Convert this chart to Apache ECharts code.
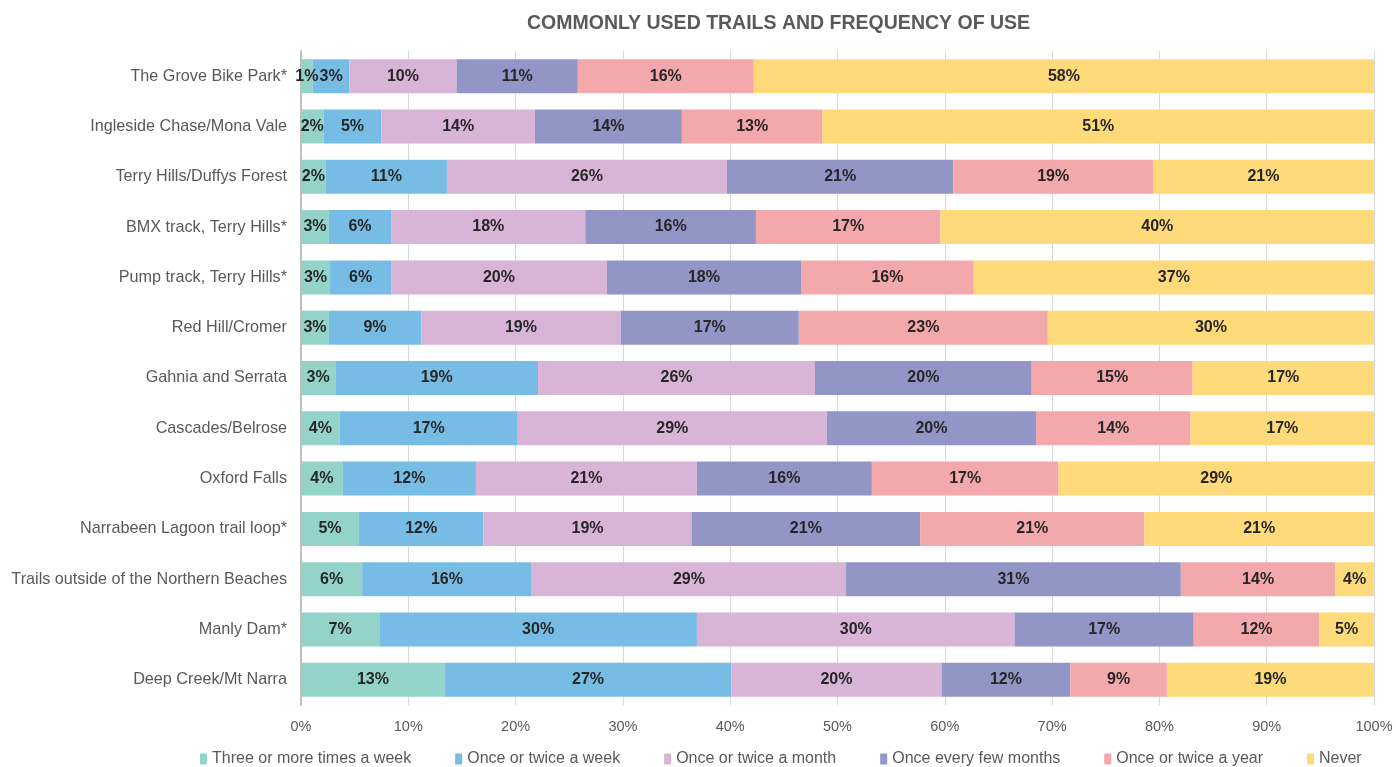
<!DOCTYPE html>
<html><head><meta charset="utf-8">
<script src="https://cdn.jsdelivr.net/npm/echarts@6/dist/echarts.min.js"></script>
<style>html,body{margin:0;padding:0;background:#fff}#c{width:1396px;height:767px}</style>
</head><body><div id="c"></div>
<script>
const categories = ["The Grove Bike Park*","Ingleside Chase/Mona Vale","Terry Hills/Duffys Forest","BMX track, Terry Hills*","Pump track, Terry Hills*","Red Hill/Cromer","Gahnia and Serrata","Cascades/Belrose","Oxford Falls","Narrabeen Lagoon trail loop*","Trails outside of the Northern Beaches","Manly Dam*","Deep Creek/Mt Narra"];
const seriesNames = ["Three or more times a week","Once or twice a week","Once or twice a month","Once every few months","Once or twice a year","Never"];
const threePlusWeek = [1.1,2.1,2.3,2.6,2.7,2.6,3.2,3.6,3.9,5.4,5.7,7.3,13.4];
const onceTwiceWeek = [3.4,5.4,11.3,5.8,5.7,8.6,18.9,16.6,12.4,11.6,15.8,29.6,26.7];
const onceTwiceMonth = [10.0,14.3,26.1,18.1,20.1,18.6,25.8,28.8,20.6,19.4,29.3,29.6,19.6];
const everyFewMonths = [11.3,13.7,21.1,15.9,18.1,16.6,20.2,19.5,16.3,21.3,31.2,16.7,12.0];
const onceTwiceYear = [16.4,13.1,18.6,17.2,16.1,23.2,15.0,14.4,17.4,20.9,14.4,11.7,9.0];
const never = [57.8,51.4,20.6,40.4,37.3,30.4,16.9,17.1,29.4,21.4,3.6,5.1,19.3];
const xTicks = [0,10,20,30,40,50,60,70,80,90,100];
const colors = ["#94D3C9","#77BCE5","#D8B4D6","#9196C6","#F3A8AC","#FEDA7A"];
const allData = [threePlusWeek,onceTwiceWeek,onceTwiceMonth,everyFewMonths,onceTwiceYear,never];

const chart = echarts.init(document.getElementById('c'));
chart.setOption({
  animation:false,
  textStyle:{fontFamily:'"Liberation Sans", Arial, sans-serif'},
  title:{text:'COMMONLY USED TRAILS AND FREQUENCY OF USE',left:527,top:14,padding:0,
    textStyle:{fontSize:19.5,fontWeight:'bold',color:'#595959',fontFamily:'"Liberation Sans", Arial, sans-serif'}},
  grid:{left:301,right:22,top:51,bottom:62},
  legend:{bottom:0,left:200,padding:0,itemWidth:7,itemHeight:11,itemGap:44,icon:'rect',
    textStyle:{fontSize:16,color:'#595959'},data:seriesNames},
  xAxis:{type:'value',min:0,max:100,interval:10,
    axisLabel:{formatter:v=>v+'%',fontSize:14.5,color:'#595959',margin:14},
    axisLine:{show:false},axisTick:{show:false},
    splitLine:{lineStyle:{color:'#D9D9D9'}}},
  yAxis:{type:'category',data:categories,inverse:true,
    axisLabel:{fontSize:16.2,color:'#595959',margin:14},
    axisTick:{show:false},axisLine:{lineStyle:{color:'#BFBFBF',width:2}}},
  series: seriesNames.map((n,i)=>({
    name:n,type:'bar',stack:'t',barWidth:34,data:allData[i],
    itemStyle:{color:colors[i]},
    label:{show:true,position:'inside',formatter:p=>Math.round(p.value)+'%',
      fontSize:16,fontWeight:'bold',color:'#262626'}
  }))
});
</script></body></html>
